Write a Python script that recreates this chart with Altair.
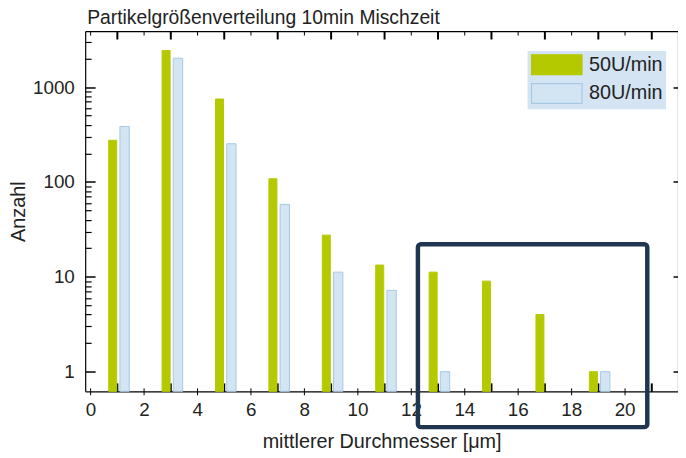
import altair as alt
import pandas as pd

# ---- data ----
bins = [1, 3, 5, 7, 9, 11, 13, 15, 17, 19]
count_50 = [275, 2430, 750, 108, 27.5, 13.3, 11.2, 9.0, 4.0, 1.0]
count_80 = [385, 2020, 253, 58, 11.2, 7.2, 1.0, None, None, 1.0]
series = ["50U/min", "80U/min"]
fill_colors = ["#b5c900", "#d3e4f3"]
edge_colors = ["#b5c900", "#a6c9e5"]
x_labels = [0, 2, 4, 6, 8, 10, 12, 14, 16, 18, 20]
y_labels = [1, 10, 100, 1000]
x_domain = [-0.2, 22]
y_domain = [0.62, 3900]
box_x = [12.26, 20.85]
box_y = [22.0, 0.26]

TITLE = "Partikelgrößenverteilung 10min Mischzeit"
X_TITLE = "mittlerer Durchmesser [μm]"
Y_TITLE = "Anzahl"

W, H = 599, 364
FONT = "Liberation Sans"
TXT = "#222222"

rows = []
for b, a, c in zip(bins, count_50, count_80):
    if a is not None:
        rows.append({"bin": b, "series": series[0], "count": a})
    if c is not None:
        rows.append({"bin": b, "series": series[1], "count": c})
df = pd.DataFrame(rows)
box_df = pd.DataFrame({"bx0": [box_x[0]], "bx1": [box_x[1]], "by0": [box_y[0]], "by1": [box_y[1]]})

x_scale = alt.Scale(domain=x_domain, nice=False, zero=False, padding=0)
y_scale = alt.Scale(type="log", domain=y_domain, nice=False, padding=0)

all_x_ticks = list(range(0, 22))
minor_y = [k * 10 ** e for e in range(0, 4) for k in range(1, 10) if k * 10 ** e <= y_domain[1]]

odd_test = "datum.value % 2 == 1"
decade_test = "abs(log(datum.value)/LN10 - round(log(datum.value)/LN10)) < 0.001"

legend = alt.Legend(
    title=None, orient="none", legendX=447, legendY=20,
    fillColor="#d4e4f3", padding=3,
    labelFont=FONT, labelFontSize=20, labelColor=TXT,
    symbolType="M-1,-1H4.1V1H-1Z", symbolSize=400, labelOffset=37,
    rowPadding=3, symbolStrokeWidth=1.2,
)

main_x = alt.Axis(
    values=x_labels, format="d", orient="bottom", grid=False,
    labelFont=FONT, labelFontSize=19, labelColor=TXT, labelPadding=6,
    tickSize=3.5, tickColor="black", domainColor="black", domainWidth=1.2,
    titleFont=FONT, titleFontSize=20, titleFontWeight="normal", titleColor=TXT, titlePadding=12,
)
main_y = alt.Axis(
    values=y_labels, format="d", orient="left", grid=False, ticks=False,
    labelFont=FONT, labelFontSize=19, labelColor=TXT, labelPadding=11,
    domainColor="black", domainWidth=1.2,
    titleFont=FONT, titleFontSize=20, titleFontWeight="normal", titleColor=TXT, titlePadding=4,
)

bars = alt.Chart(df).transform_calculate(
    x0="datum.bin + (datum.series == '50U/min' ? -0.32 : 0.10)",
    x1="datum.bin + (datum.series == '50U/min' ? -0.02 : 0.45)",
).mark_bar(strokeWidth=1).encode(
    x=alt.X("x0:Q", scale=x_scale, axis=main_x, title=X_TITLE),
    x2="x1:Q",
    y=alt.Y("count:Q", scale=y_scale, axis=main_y, title=Y_TITLE),
    y2=alt.Y2Datum(y_domain[0]),
    color=alt.Color("series:N", scale=alt.Scale(domain=series, range=fill_colors), legend=legend),
    stroke=alt.Stroke("series:N", scale=alt.Scale(domain=series, range=edge_colors), legend=legend),
)

# inner ticks on the bottom and left edges, plus the highlight box
inner_bottom = alt.Axis(
    orient="top", offset=-H, values=all_x_ticks, labels=False, domain=False, grid=False,
    tickColor="black",
    tickSize={"condition": {"test": odd_test, "value": 8.5}, "value": 3.5},
    tickWidth={"condition": {"test": odd_test, "value": 2}, "value": 1},
)
inner_left = alt.Axis(
    orient="right", offset=-W, values=minor_y, labels=False, domain=False, grid=False,
    tickColor="black",
    tickSize={"condition": {"test": decade_test, "value": 10}, "value": 6},
    tickWidth={"condition": {"test": decade_test, "value": 1.5}, "value": 1.2},
)
box = alt.Chart(box_df).mark_rect(
    filled=False, stroke="#1f3550", strokeWidth=4.5, cornerRadius=3
).encode(
    x=alt.X("bx0:Q", axis=inner_bottom, title=None),
    x2="bx1:Q",
    y=alt.Y("by0:Q", axis=inner_left, title=None),
    y2="by1:Q",
)

# top and right frame with inward ticks
top_axis = alt.Axis(
    orient="bottom", offset=-H, values=all_x_ticks, labels=False, domain=True, grid=False,
    domainColor="black", domainWidth=1.2, tickColor="black",
    tickSize={"condition": {"test": odd_test, "value": 8}, "value": 4},
    tickWidth={"condition": {"test": odd_test, "value": 2}, "value": 1},
)
right_axis = alt.Axis(
    orient="left", offset=-W, values=y_labels, labels=False, domain=True, grid=False,
    domainColor="black", domainWidth=1.2, tickColor="black", tickSize=5, tickWidth=1.5,
)
frame = alt.Chart(df).transform_calculate(
    xpos="datum.bin"
).mark_point(opacity=0).encode(
    x=alt.X("xpos:Q", axis=top_axis, title=None),
    y=alt.Y("count:Q", axis=right_axis, title=None),
)

chart = alt.layer(bars, box, frame).resolve_axis(
    x="independent", y="independent"
).properties(
    width=W, height=H,
    title=alt.TitleParams(
        TITLE, anchor="start", frame="group", font=FONT, fontSize=19.5, fontWeight="normal",
        color=TXT, offset=2, dx=2,
    ),
    autosize=alt.AutoSizeParams(type="none"),
    padding={"left": 78, "top": 21, "right": 0, "bottom": 60},
).configure_view(stroke=None)

chart.save("out.html", embed_options={"renderer": "svg", "actions": False})
